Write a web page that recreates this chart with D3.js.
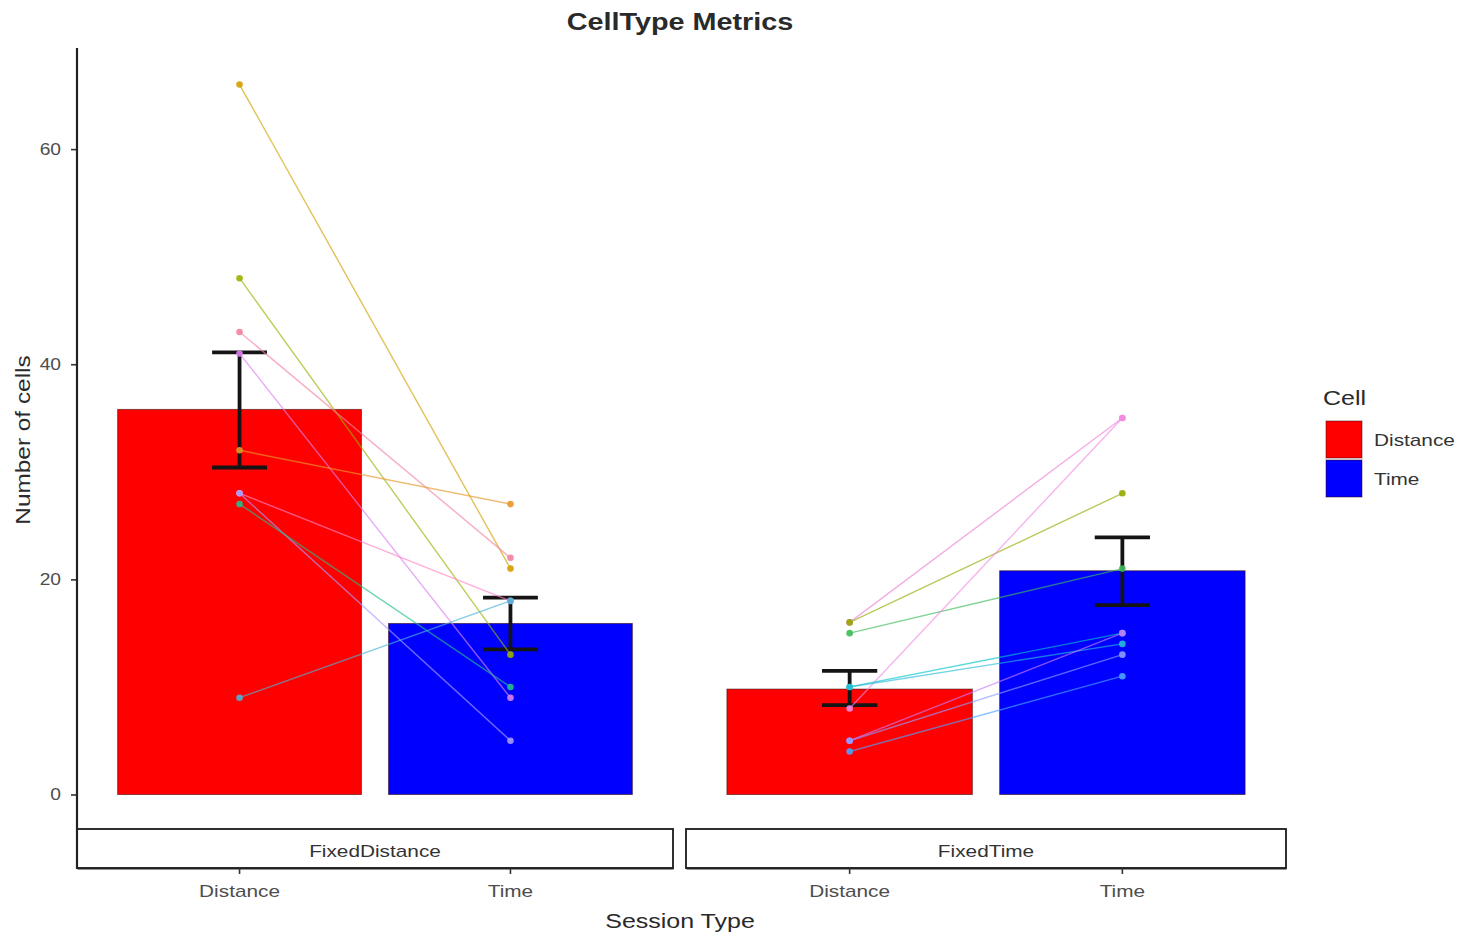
<!DOCTYPE html>
<html>
<head>
<meta charset="utf-8">
<script src="https://cdn.jsdelivr.net/npm/d3@7"></script>
<style>
  html, body { margin: 0; padding: 0; background: #fff; }
  svg { display: block; font-family: "Liberation Sans", Arial, sans-serif; }
</style>
</head>
<body>
<svg id="chart" width="1478" height="942"></svg>
<script>
// ---- data ----
const panels = ["FixedDistance", "FixedTime"];
const cellTypes = ["Distance", "Time"];
const yTicks = [0, 20, 40, 60];

// bar heights (mean number of cells) per panel, in cellTypes order
const meanFixedDistance = [35.8, 15.9];
const meanFixedTime = [9.8, 20.8];

// error bar limits (mean ± SE)
const lowFixedDistance = [30.4, 13.5];
const highFixedDistance = [41.1, 18.3];
const lowFixedTime = [8.3, 17.6];
const highFixedTime = [11.5, 23.9];

// paired per-animal counts: Distance cells vs Time cells
const fdDistance = [66, 48, 43, 41, 32, 28, 28, 27, 9];
const fdTime     = [21, 13, 22, 9, 27, 18, 5, 10, 18];
const ftDistance = [16, 16, 15, 8, 10, 10, 5, 5, 4];
const ftTime     = [35, 28, 21, 35, 15, 14, 15, 13, 11];

// ---- styles ----
const fillColors = ["#FF0000", "#0000FF"];
const fdColors = ["#D3A000", "#9DB100", "#F2829E", "#DC7FEF", "#E8962A", "#FF84C8", "#A59CFF", "#22BE8C", "#4CB4D6"];
const ftColors = ["#F07FD8", "#93AA00", "#3DBB5A", "#F28BE2", "#00C4C8", "#27BDD9", "#C77CFF", "#8E9BFF", "#4AA3FF"];

const panelData = [
  { name: panels[0], mean: meanFixedDistance, low: lowFixedDistance, high: highFixedDistance,
    dist: fdDistance, time: fdTime, colors: fdColors, range: [77, 673] },
  { name: panels[1], mean: meanFixedTime, low: lowFixedTime, high: highFixedTime,
    dist: ftDistance, time: ftTime, colors: ftColors, range: [686, 1286] }
];

const svg = d3.select("#chart");
svg.append("rect").attr("width", 1478).attr("height", 942).attr("fill", "#fff");

const y = d3.scaleLinear().domain([-3.3, 69.4]).range([830, 48]);
const stripTop = 829, axisY = 868;

// horizontally widened text, anchored at (x, y)
function label(x, yy, txt, size, opts = {}) {
  const sx = opts.sx || 1.25;
  const rot = opts.rotate ? ` rotate(${opts.rotate})` : "";
  return svg.append("text")
    .attr("transform", `translate(${x},${yy})${rot} scale(${sx},1)`)
    .attr("text-anchor", opts.anchor || "middle")
    .attr("font-size", size)
    .attr("font-weight", opts.weight || "normal")
    .attr("fill", opts.fill || "#1f1f1f")
    .text(txt);
}

panelData.forEach(p => {
  const x = d3.scaleBand().domain(cellTypes).range(p.range).paddingInner(0.1).paddingOuter(0.15);
  const cx = c => x(c) + x.bandwidth() / 2;
  const g = svg.append("g");

  // bars
  g.selectAll("rect.bar").data(cellTypes).join("rect")
    .attr("class", "bar")
    .attr("x", d => x(d))
    .attr("width", x.bandwidth())
    .attr("y", (d, i) => y(p.mean[i]))
    .attr("height", (d, i) => y(0) - y(p.mean[i]))
    .attr("fill", (d, i) => fillColors[i])
    .attr("stroke", "#300")
    .attr("stroke-opacity", 0.55)
    .attr("stroke-width", 1);

  // error bars
  const capW = x.bandwidth() * 0.225;
  cellTypes.forEach((c, i) => {
    const eb = g.append("g").attr("stroke", "#141414").attr("stroke-width", 3.8);
    eb.append("line").attr("x1", cx(c)).attr("x2", cx(c)).attr("y1", y(p.low[i])).attr("y2", y(p.high[i]));
    [p.low[i], p.high[i]].forEach(v => {
      eb.append("line").attr("x1", cx(c) - capW / 2).attr("x2", cx(c) + capW / 2)
        .attr("y1", y(v)).attr("y2", y(v));
    });
  });

  // paired lines per animal
  g.selectAll("line.pair").data(p.dist).join("line")
    .attr("class", "pair")
    .attr("x1", cx(cellTypes[0])).attr("y1", d => y(d))
    .attr("x2", cx(cellTypes[1])).attr("y2", (d, i) => y(p.time[i]))
    .attr("stroke", (d, i) => p.colors[i])
    .attr("stroke-width", 1.4)
    .attr("stroke-opacity", 0.65);

  // points
  [p.dist, p.time].forEach((vals, k) => {
    g.selectAll(null).data(vals).join("circle")
      .attr("cx", cx(cellTypes[k]))
      .attr("cy", d => y(d))
      .attr("r", 3.3)
      .attr("fill", (d, i) => p.colors[i])
      .attr("fill-opacity", 0.9);
  });

  // strip
  g.append("rect")
    .attr("x", p.range[0]).attr("y", stripTop)
    .attr("width", p.range[1] - p.range[0]).attr("height", axisY - stripTop)
    .attr("fill", "#fff").attr("stroke", "#1a1a1a").attr("stroke-width", 1.8);
  label((p.range[0] + p.range[1]) / 2, 857, p.name, 16, { sx: 1.3, fill: "#333" });

  // x axis
  const ax = svg.append("g").attr("transform", `translate(0,${axisY})`)
    .call(d3.axisBottom(x).tickSize(6).tickSizeOuter(0));
  ax.select(".domain").attr("stroke", "#222").attr("stroke-width", 2.2);
  ax.selectAll(".tick line").attr("stroke", "#333").attr("stroke-width", 1.6);
  ax.selectAll(".tick text")
    .attr("y", 29).attr("dy", 0)
    .attr("transform", "scale(1.3,1)")
    .attr("font-size", 16)
    .attr("font-family", "Liberation Sans, Arial, sans-serif")
    .attr("fill", "#4d4d4d");
});

// y axis
const yAx = svg.append("g").attr("transform", "translate(77,0)")
  .call(d3.axisLeft(y).tickValues(yTicks).tickSize(6).tickPadding(10));
yAx.select(".domain").remove();
yAx.selectAll(".tick line").attr("stroke", "#333").attr("stroke-width", 1.6);
yAx.selectAll(".tick text")
  .attr("x", -16 / 1.2)
  .attr("transform", "scale(1.2,1)")
  .attr("font-size", 16)
  .attr("font-family", "Liberation Sans, Arial, sans-serif")
  .attr("fill", "#4d4d4d");
svg.append("line").attr("x1", 77).attr("x2", 77).attr("y1", 48).attr("y2", axisY + 1)
  .attr("stroke", "#222").attr("stroke-width", 2.2);

// titles
label(680, 30, "CellType Metrics", 24, { weight: "bold", sx: 1.2, fill: "#2a2a2a" });
label(680, 928, "Session Type", 20, { sx: 1.25, fill: "#2a2a2a" });
label(30, 440, "Number of cells", 20, { rotate: -90, sx: 1.22, fill: "#2a2a2a" });

// legend
label(1323, 405, "Cell", 20, { anchor: "start", sx: 1.25, fill: "#2a2a2a" });
cellTypes.forEach((c, i) => {
  svg.append("rect")
    .attr("x", 1326).attr("y", 421 + i * 39)
    .attr("width", 36).attr("height", 37)
    .attr("fill", fillColors[i])
    .attr("stroke", "#300").attr("stroke-opacity", 0.5).attr("stroke-width", 1);
  label(1374, 446 + i * 39, c, 16, { anchor: "start", sx: 1.3, fill: "#333" });
});
</script>
</body>
</html>
